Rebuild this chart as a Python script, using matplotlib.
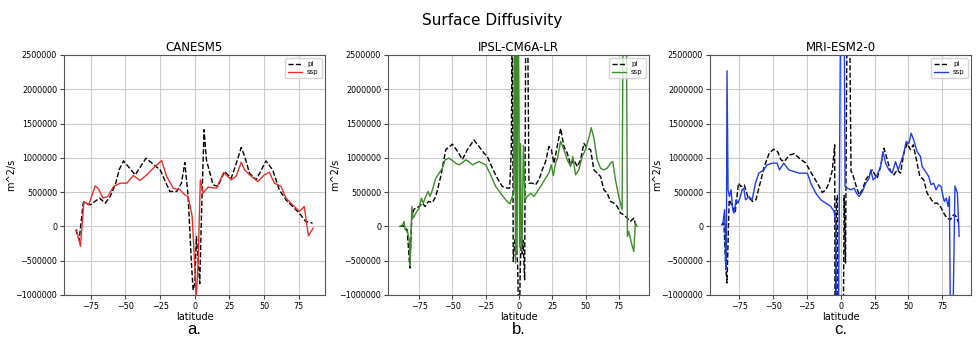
import matplotlib
matplotlib.use("Agg")
import matplotlib.pyplot as plt

# CANESM5
can_pi_lat = [-85.8, -83.4, -80.5, -75.4, -68.7, -64.6, -61, -57, -54.5, -51.4, -43, -35.2, -25, -18, -13,
              -9.6, -7.2, -4.8, -2.4, -1.2, 0, 1.2, 2.2, 3.6, 4.8, 6.7, 8.4, 13.2, 16.7, 21.5, 26.3, 30,
              33.5, 36, 39.5, 44.3, 51.4, 56.2, 61, 65.8, 70.6, 75.4, 80, 85]
can_pi = [-50000, -196000, 343000, 315000, 413000, 340000, 437000, 631000, 830000, 956000, 752000, 995000,
          825000, 510000, 510000, 631000, 932000, 440000, -540000, -930000, -825000, -147000, -437000,
          -833000, 145000, 1410000, 970000, 607000, 583000, 800000, 704000, 922000, 1150000, 1020000,
          777000, 680000, 956000, 825000, 534000, 388000, 291000, 194000, 73000, 48000]
can_ssp_lat = [-85.4, -82.5, -80, -76.6, -71.8, -69.4, -66.3, -62.7, -58.6, -53.8, -49, -44.3, -39.5,
               -34.7, -29.9, -23.9, -20.3, -15.6, -10.8, -7.2, -4.8, -1.9, 0, 1, 2.4, 4, 6, 9.6, 15.6,
               20.8, 26.3, 30, 33.5, 35.9, 39.5, 45.5, 50.2, 53.8, 57.4, 62.2, 65.8, 70.6, 75.4, 79, 82, 85.4]
can_ssp = [-48000, -291000, 364000, 315000, 592000, 544000, 413000, 437000, 583000, 631000, 631000,
           743000, 670000, 752000, 850000, 961000, 728000, 558000, 534000, 461000, 437000, 146000, -583000,
           -1050000, -534000, 680000, 485000, 573000, 558000, 786000, 680000, 738000, 937000, 825000,
           752000, 655000, 752000, 791000, 631000, 583000, 413000, 315000, 218000, 291000, -136000, -24000]

# IPSL-CM6A-LR
ipsl_pi_lat = [-89.5, -87, -84, -82, -80.5, -78.8, -75, -72.5, -70.5, -68, -65, -62.5, -58.8, -55, -50, -46,
               -42.5, -38.8, -33.8, -30, -26.3, -23.8, -20, -16.3, -12.5, -8.8, -7, -5.75, -5, -4.3, -3, -2,
               -1, -0.4, 0.5, 1, 1.75, 2.5, 3, 4.25, 5.2, 6.3, 7.5, 10, 12.5, 15, 17.5, 20, 22.5, 24.3,
               26.3, 28.75, 31.3, 33.8, 36.3, 38.8, 41.3, 43.8, 46.3, 48.8, 51.3, 53.8, 56.3, 58.8, 61.3,
               63.8, 66.3, 68.8, 71.3, 73.8, 76.3, 78.8, 81.3, 83.8, 86.3, 88]
ipsl_pi = [0, 10000, -50000, -607000, 146000, 252000, 291000, 340000, 291000, 364000, 350000, 437000,
           728000, 1120000, 1200000, 1090000, 976000, 1120000, 1260000, 1165000, 1070000, 1020000, 850000,
           704000, 583000, 558000, 558000, 1120000, 3500000, -510000, -194000, -300000, -550000, -1200000,
           -1200000, -600000, -146000, -400000, -200000, -777000, 3500000, 3500000, 631000, 631000, 607000,
           680000, 825000, 946000, 1165000, 1120000, 922000, 1165000, 1430000, 1165000, 1070000, 898000,
           971000, 874000, 971000, 1210000, 1140000, 1120000, 825000, 777000, 728000, 534000, 485000,
           364000, 340000, 291000, 194000, 170000, 121000, 73000, 121000, 0]
ipsl_ssp_lat = [-89.5, -87.5, -86.3, -85.5, -83.8, -82.5, -81.8, -80.5, -79.5, -77.5, -75, -73.3, -72, -70,
                -68.3, -66.8, -65, -62.5, -60, -57.5, -55.5, -52.5, -50, -47.5, -45, -42.5, -40, -37.5,
                -35, -32.5, -30, -27.5, -25, -21.3, -17.5, -13.8, -10, -7.5, -6.8, -5, -4, -3.2, -2.6,
                -2, -1.4, -0.8, 0, 0.5, 1.25, 1.8, 2.4, 3.3, 4.5, 6.3, 8.8, 11.3, 13.8, 16.3, 20, 22.5,
                24.3, 25.8, 27.5, 29, 31.3, 33.8, 36.3, 38.8, 40.5, 42.5, 45, 47.5, 50, 52.5, 54.3, 56.3,
                58.8, 61.3, 63.8, 66.3, 68.8, 70.5, 72.5, 75, 77.5, 78.5, 80.5, 81.5, 82.5, 84.5, 86.3,
                87.5, 88.8]
ipsl_ssp = [0, 24000, 73000, -48000, -73000, -194000, -583000, 291000, 121000, 194000, 267000, 413000,
            340000, 437000, 510000, 437000, 534000, 704000, 777000, 850000, 971000, 995000, 961000, 922000,
            898000, 932000, 971000, 946000, 898000, 922000, 946000, 922000, 898000, 752000, 583000, 485000,
            388000, 340000, 330000, 437000, 485000, 3500000, -534000, 3500000, -400000, 3000000, 1600000,
            -300000, 1210000, -350000, -200000, 1180000, 380000, 437000, 485000, 437000, 510000, 583000,
            704000, 777000, 898000, 740000, 922000, 1000000, 1240000, 1120000, 971000, 874000, 1020000,
            752000, 825000, 1020000, 1120000, 1290000, 1440000, 1290000, 971000, 850000, 825000, 850000,
            922000, 946000, 680000, 437000, 243000, 4000000, 4000000, -146000, -73000, -243000,
            -364000, 49000, 0]

# MRI-ESM2-0
mri_pi_lat = [-88, -86.5, -85, -84.2, -82.6, -80.2, -78.2, -75.7, -73.9, -71.4, -68.9, -65.2, -62.8, -60.3,
              -56.6, -52.9, -49.7, -46.7, -44.3, -41.8, -38.1, -34.4, -30.7, -25.9, -21, -17.3, -13.6,
              -11.1, -8.7, -6.2, -4.5, -4.1, -3.2, -2.5, -1.6, 1.4, 2.5, 3.5, 4.8, 6.3, 7.6, 8.6, 11.1,
              13.6, 16, 18.5, 21, 23.4, 25.9, 27, 29.5, 32, 34.4, 36.9, 39.3, 41.8, 44.2, 46.7, 49.1, 51.6,
              53.6, 56, 58.5, 61.4, 63.9, 66.3, 68.8, 71.3, 73.7, 76.2, 78.6, 81.1, 83.5, 85.5, 87.2]
mri_pi = [20000, 50000, -631000, -825000, 388000, 291000, 194000, 631000, 583000, 607000, 437000, 364000,
          388000, 583000, 874000, 1070000, 1126000, 1090000, 971000, 946000, 1040000, 1060000, 995000,
          922000, 752000, 631000, 495000, 534000, 631000, 825000, 1190000, -3000000, 388000, 450000,
          -3000000, -3000000, 450000, -534000, 3500000, 3500000, 800000, 777000, 607000, 461000, 534000,
          680000, 752000, 825000, 728000, 704000, 874000, 1140000, 971000, 801000, 752000, 825000, 777000,
          1070000, 1210000, 1120000, 1190000, 971000, 728000, 680000, 485000, 413000, 340000, 340000,
          291000, 194000, 121000, 97000, 170000, 146000, 49000]
mri_ssp_lat = [-88, -87, -86, -85.6, -85.1, -84.7, -84.2, -83.4, -82.4, -81.2, -80, -79, -77.5, -76, -74.3,
               -73, -71.8, -70.5, -68, -65.6, -63.1, -60.7, -57, -54.5, -50.8, -47.1, -45.4, -42.2, -38.5,
               -34.8, -30.8, -24.7, -22.2, -18.5, -14.8, -11.1, -7.4, -4.9, -3.7, -2.4, 0.5, 2.0, 3.2,
               4.9, 7.4, 9.9, 11.6, 13.6, 16, 18.5, 21, 22.2, 23.9, 26.4, 29.5, 31.2, 33.2, 35.6, 38.1,
               40.5, 42.5, 44.2, 46.7, 48.4, 50.4, 52.1, 54, 56.5, 59, 60.2, 62.7, 65.1, 66.8, 68.8, 70.5,
               72.5, 74.2, 75.7, 76.7, 78.1, 79.4, 80.4, 81.8, 84.5, 86.3, 87.6]
mri_ssp = [24000, 73000, 243000, -49000, -631000, -600000, 2270000, 534000, 437000, 534000, 243000, 194000,
           388000, 340000, 437000, 534000, 558000, 388000, 437000, 388000, 631000, 777000, 825000, 898000,
           922000, 922000, 825000, 922000, 825000, 801000, 777000, 777000, 631000, 485000, 388000, 340000,
           291000, 218000, 49000, -3500000, 5000000, 5000000, 583000, 558000, 534000, 558000, 485000, 437000,
           510000, 631000, 704000, 825000, 680000, 728000, 874000, 1090000, 922000, 825000, 777000, 946000,
           825000, 922000, 1070000, 1240000, 1210000, 1360000, 1260000, 1090000, 1020000, 874000, 801000,
           728000, 607000, 631000, 534000, 607000, 583000, 437000, 364000, 413000, 291000, 437000, -3000000,
           590000, 485000, -146000]

models = ["CANESM5", "IPSL-CM6A-LR", "MRI-ESM2-0"]
panel_tags = ["a.", "b.", "c."]
ssp_colors = ["#e8302a", "#3c8c2c", "#1f3fe8"]
series = [(can_pi_lat, can_pi, can_ssp_lat, can_ssp),
          (ipsl_pi_lat, ipsl_pi, ipsl_ssp_lat, ipsl_ssp),
          (mri_pi_lat, mri_pi, mri_ssp_lat, mri_ssp)]
lefts = [64, 388, 710]

W, H = 976, 342
fig = plt.figure(figsize=(W / 100, H / 100), dpi=100)
fig.suptitle("Surface Diffusivity", x=0.504, y=1 - 21 / H, va="center", fontsize=11)

for i in range(3):
    ax = fig.add_axes([lefts[i] / W, 1 - 295 / H, 261 / W, 240 / H])
    plat, pval, slat, sval = series[i]
    ax.plot(plat, pval, color="black", ls="--", lw=1.0, label="pi")
    ax.plot(slat, sval, color=ssp_colors[i], lw=1.0, label="ssp")
    ax.set_ylim(-1000000, 2500000)
    ax.set_yticks(range(-1000000, 2500001, 500000))
    ax.set_xticks([-75, -50, -25, 0, 25, 50, 75])
    ax.ticklabel_format(axis="y", style="plain")
    ax.grid(True, color="#cccccc", lw=0.8)
    ax.set_axisbelow(True)
    ax.tick_params(labelsize=5.8, length=3, pad=2, color="#444444")
    for s in ax.spines.values():
        s.set_color("#555555")
    ax.set_title(models[i], fontsize=8.5, pad=3)
    ax.set_xlabel("latitude", fontsize=7, labelpad=1)
    ax.set_ylabel("m^2/s", fontsize=7)
    ax.yaxis.set_label_coords(-0.185, 0.5)
    ax.legend(loc="upper right", fontsize=5, handlelength=2, borderpad=0.4, labelspacing=0.3)
    fig.text((lefts[i] + 130.5) / W, 1 - 330 / H, panel_tags[i], ha="center", va="center",
             fontsize=12, family=["Liberation Sans", "DejaVu Sans"])

fig.savefig("out.png", dpi=100)
